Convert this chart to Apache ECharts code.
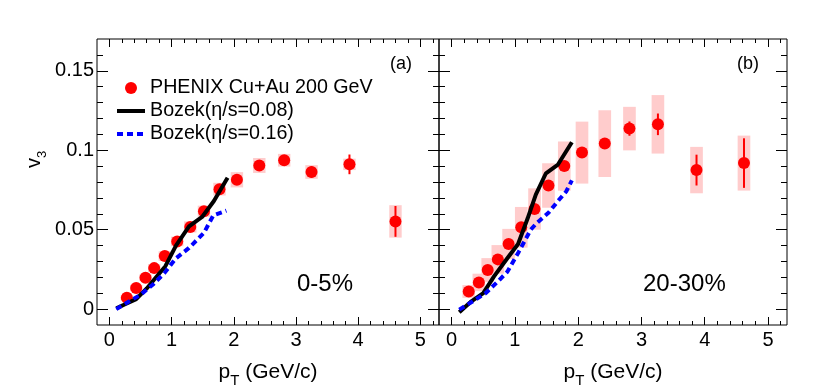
<!DOCTYPE html>
<html>
<head>
<meta charset="utf-8">
<script src="https://cdn.jsdelivr.net/npm/echarts@6/dist/echarts.min.js"></script>
<style>
  html, body { margin: 0; padding: 0; background: #fff; }
  #chart { width: 830px; height: 388px; }
</style>
</head>
<body>
<div id="chart"></div>
<script>
// ---------------- data ----------------
// Panel (a): 0-5%
const ptA   = [0.28, 0.43, 0.58, 0.72, 0.89, 1.09, 1.30, 1.52, 1.77, 2.05, 2.41, 2.81, 3.25, 3.86, 4.60];
const v3A   = [0.0071, 0.0133, 0.0198, 0.0258, 0.0334, 0.0426, 0.0517, 0.0616, 0.0755, 0.0814, 0.0904, 0.0937, 0.0863, 0.0911, 0.0552];
const statA = [0.0005, 0.0005, 0.0006, 0.0007, 0.0008, 0.0010, 0.0012, 0.0014, 0.0016, 0.0020, 0.0025, 0.0030, 0.0035, 0.0062, 0.0097];
const sysA  = [0.0015, 0.0020, 0.0020, 0.0025, 0.0030, 0.0030, 0.0035, 0.0035, 0.0040, 0.0048, 0.0047, 0.0040, 0.0043, 0.0036, 0.0102];

// Panel (b): 20-30%
const ptB   = [0.27, 0.43, 0.57, 0.73, 0.90, 1.10, 1.31, 1.53, 1.78, 2.06, 2.42, 2.81, 3.26, 3.87, 4.62];
const v3B   = [0.0111, 0.0168, 0.0246, 0.0313, 0.0410, 0.0515, 0.0630, 0.0778, 0.0900, 0.0985, 0.1042, 0.1136, 0.1163, 0.0875, 0.0919];
const statB = [0.0005, 0.0006, 0.0007, 0.0008, 0.0010, 0.0012, 0.0014, 0.0017, 0.0020, 0.0025, 0.0030, 0.0045, 0.0068, 0.0097, 0.0156];
const sysB  = [0.0040, 0.0055, 0.0075, 0.0090, 0.0095, 0.0128, 0.0130, 0.0140, 0.0155, 0.0195, 0.0210, 0.0137, 0.0184, 0.0146, 0.0173];

// Bozek hydro curves
const bozek008A = [[0.11,0.0005],[0.26,0.0032],[0.43,0.0063],[0.60,0.0130],[0.75,0.0200],[0.90,0.0270],[1.07,0.0400],[1.28,0.0520],[1.49,0.0580],[1.68,0.0680],[1.90,0.0827]];
const bozek016A = [[0.11,0.0000],[0.30,0.0045],[0.50,0.0090],[0.70,0.0155],[0.88,0.0225],[1.07,0.0320],[1.28,0.0385],[1.52,0.0480],[1.67,0.0590],[1.88,0.0620]];
const bozek008B = [[0.12,-0.0020],[0.30,0.0045],[0.50,0.0101],[0.67,0.0206],[0.88,0.0320],[1.05,0.0410],[1.20,0.0570],[1.33,0.0720],[1.49,0.0855],[1.68,0.0910],[1.90,0.1050]];
const bozek016B = [[0.12,-0.0003],[0.33,0.0048],[0.54,0.0101],[0.73,0.0174],[0.88,0.0235],[1.06,0.0360],[1.25,0.0500],[1.34,0.0540],[1.53,0.0606],[1.68,0.0680],[1.81,0.0740],[1.90,0.0810]];

// ticks
const xMajorTicks = [0, 1, 2, 3, 4, 5];
const xMinorTicks = [0.2,0.4,0.6,0.8,1.2,1.4,1.6,1.8,2.2,2.4,2.6,2.8,3.2,3.4,3.6,3.8,4.2,4.4,4.6,4.8,5.2];
const yMajorTicks = [0, 0.05, 0.1, 0.15];
const yMinorTicks = [0.01,0.02,0.03,0.04,0.06,0.07,0.08,0.09,0.11,0.12,0.13,0.14,0.16];

const seriesNames = ['PHENIX Cu+Au 200 GeV', 'Bozek(\u03b7/s=0.08)', 'Bozek(\u03b7/s=0.16)'];
const panelLabels = ['(a)', '(b)'];
const centralityLabels = ['0-5%', '20-30%'];

// ---------------- chart ----------------
const FONT = 'Liberation Sans, Arial, Helvetica, sans-serif';
const chart = echarts.init(document.getElementById('chart'), null, {renderer: 'canvas'});

const grids = [
  {left: 97, top: 39, width: 342, height: 286},
  {left: 439, top: 39, width: 348, height: 286}
];

function xAxesFor(g) {
  const base = {gridIndex: g, type: 'value', min: -0.2, max: 5.3,
    axisLine: {show: false, onZero: false}, splitLine: {show: false}};
  const tickStyle = {color: '#000', width: 1};
  return [
    Object.assign({}, base, {position: 'bottom',
      axisTick: {show: true, inside: true, length: 8, customValues: xMajorTicks, lineStyle: tickStyle},
      axisLabel: {show: true, customValues: xMajorTicks, margin: 5, fontSize: 20, color: '#000', fontFamily: FONT},
      name: '{a|p}{s|T}{a| (GeV/c)}', nameLocation: 'middle', nameGap: 37,
      nameTextStyle: {color: '#000', fontFamily: FONT, fontSize: 21,
        rich: {a: {fontSize: 21, fontFamily: FONT, color: '#000', verticalAlign: 'top', padding: [0,0,5,0]},
               s: {fontSize: 15, fontFamily: FONT, color: '#000', verticalAlign: 'bottom'}}}}),
    Object.assign({}, base, {position: 'bottom',
      axisTick: {show: true, inside: true, length: 4, customValues: xMinorTicks, lineStyle: tickStyle},
      axisLabel: {show: false}}),
    Object.assign({}, base, {position: 'top',
      axisTick: {show: true, inside: true, length: 8, customValues: xMajorTicks, lineStyle: tickStyle},
      axisLabel: {show: false}}),
    Object.assign({}, base, {position: 'top',
      axisTick: {show: true, inside: true, length: 4, customValues: xMinorTicks, lineStyle: tickStyle},
      axisLabel: {show: false}})
  ];
}
function yAxesFor(g, withLabels) {
  const base = {gridIndex: g, type: 'value', min: -0.01, max: 0.17,
    axisLine: {show: false, onZero: false}, splitLine: {show: false}};
  const tickStyle = {color: '#000', width: 1};
  return [
    Object.assign({}, base, {position: 'left',
      axisTick: {show: true, inside: true, length: 11, customValues: yMajorTicks, lineStyle: tickStyle},
      axisLabel: withLabels ? {show: true, customValues: yMajorTicks, margin: 3, fontSize: 20, color: '#000', fontFamily: FONT} : {show: false}}),
    Object.assign({}, base, {position: 'left',
      axisTick: {show: true, inside: true, length: 6, customValues: yMinorTicks, lineStyle: tickStyle},
      axisLabel: {show: false}}),
    Object.assign({}, base, {position: 'right',
      axisTick: {show: true, inside: true, length: 11, customValues: yMajorTicks, lineStyle: tickStyle},
      axisLabel: {show: false}}),
    Object.assign({}, base, {position: 'right',
      axisTick: {show: true, inside: true, length: 6, customValues: yMinorTicks, lineStyle: tickStyle},
      axisLabel: {show: false}})
  ];
}

function boxSeries(g, x, y, s) {
  return {
    type: 'custom', xAxisIndex: g * 4, yAxisIndex: g * 4, z: 1, silent: true, clip: true,
    data: x.map((v, i) => [v, y[i], s[i]]),
    encode: {x: 0, y: 1},
    renderItem: function (params, api) {
      const xv = api.value(0), yv = api.value(1), sv = api.value(2);
      const p1 = api.coord([xv - 0.1, yv + sv]);
      const p2 = api.coord([xv + 0.1, yv - sv]);
      return {type: 'rect', shape: {x: p1[0], y: p1[1], width: p2[0] - p1[0], height: p2[1] - p1[1]},
              style: {fill: '#ffcccc'}};
    }
  };
}
function errSeries(g, x, y, e) {
  return {
    type: 'custom', xAxisIndex: g * 4, yAxisIndex: g * 4, z: 3, silent: true, clip: true,
    data: x.map((v, i) => [v, y[i], e[i]]),
    encode: {x: 0, y: 1},
    renderItem: function (params, api) {
      const xv = api.value(0), yv = api.value(1), ev = api.value(2);
      const p1 = api.coord([xv, yv + ev]);
      const p2 = api.coord([xv, yv - ev]);
      return {type: 'line', shape: {x1: p1[0], y1: p1[1], x2: p2[0], y2: p2[1]},
              style: {stroke: '#ff0000', lineWidth: 2}};
    }
  };
}
function pointSeries(g, x, y) {
  return {
    name: seriesNames[0], type: 'scatter', xAxisIndex: g * 4, yAxisIndex: g * 4, z: 2,
    symbol: 'circle', symbolSize: 12, itemStyle: {color: '#ff0000', opacity: 1},
    data: x.map((v, i) => [v, y[i]])
  };
}
function curveSeries(g, name, data, color, type) {
  return {
    name: name, type: 'line', xAxisIndex: g * 4, yAxisIndex: g * 4, z: 4,
    symbol: 'none', showSymbol: false, smooth: false,
    lineStyle: {color: color, width: 4, type: type},
    itemStyle: {color: color},
    data: data
  };
}

const option = {
  animation: false,
  backgroundColor: '#fff',
  grid: grids.map(g => Object.assign({show: true, borderColor: '#000', borderWidth: 1,
    backgroundColor: 'transparent', containLabel: false, outerBoundsMode: 'none'}, g)),
  xAxis: xAxesFor(0).concat(xAxesFor(1)),
  yAxis: yAxesFor(0, true).concat(yAxesFor(1, false)),
  legend: {
    orient: 'vertical', left: 110, top: 73, itemWidth: 28, itemHeight: 12, itemGap: 3,
    textStyle: {fontSize: 19.7, fontFamily: FONT, color: '#000'},
    data: [
      {name: seriesNames[0], icon: 'circle', itemStyle: {color: '#ff0000', opacity: 1}},
      {name: seriesNames[1], itemStyle: {opacity: 0}, lineStyle: {width: 4, color: '#000', type: 'solid', opacity: 1}},
      {name: seriesNames[2], itemStyle: {opacity: 0}, lineStyle: {width: 4, color: '#0000ff', type: [6, 4], opacity: 1}}
    ]
  },
  graphic: [
    {type: 'text', left: 390, top: 55, style: {text: panelLabels[0], fontSize: 18, fontFamily: FONT, fill: '#000'}},
    {type: 'text', left: 737, top: 55, style: {text: panelLabels[1], fontSize: 18, fontFamily: FONT, fill: '#000'}},
    {type: 'text', left: 297, top: 272, style: {text: centralityLabels[0], fontSize: 24, fontFamily: FONT, fill: '#000'}},
    {type: 'text', left: 643, top: 272, style: {text: centralityLabels[1], fontSize: 24, fontFamily: FONT, fill: '#000'}},
    {type: 'text', x: 24, y: 168, rotation: Math.PI / 2,
     style: {text: '{a|v}{s|3}', fontFamily: FONT, fill: '#000',
       rich: {a: {fontSize: 20, fontFamily: FONT, fill: '#000', verticalAlign: 'top', padding: [0,0,5,0]},
              s: {fontSize: 13, fontFamily: FONT, fill: '#000', verticalAlign: 'bottom'}}}}
  ],
  series: [
    boxSeries(0, ptA, v3A, sysA),
    boxSeries(1, ptB, v3B, sysB),
    pointSeries(0, ptA, v3A),
    pointSeries(1, ptB, v3B),
    errSeries(0, ptA, v3A, statA),
    errSeries(1, ptB, v3B, statB),
    curveSeries(0, seriesNames[1], bozek008A, '#000000', 'solid'),
    curveSeries(0, seriesNames[2], bozek016A, '#0000ff', [6, 4]),
    curveSeries(1, seriesNames[1], bozek008B, '#000000', 'solid'),
    curveSeries(1, seriesNames[2], bozek016B, '#0000ff', [6, 4])
  ]
};
chart.setOption(option);
</script>
</body>
</html>
